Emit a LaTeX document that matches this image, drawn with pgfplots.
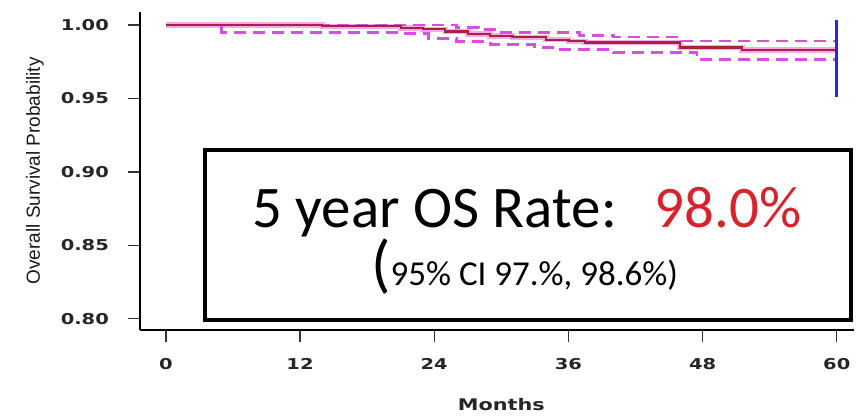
\documentclass[border=0pt]{standalone}
\usepackage{pgfplots}
\pgfplotsset{compat=1.18}
\usepackage{fontspec}
\setmainfont{Carlito}
\newfontfamily\labelfont{Liberation Sans}
\newfontfamily\tickfont[FakeStretch=1.3]{DejaVu Sans}

\definecolor{kmline}{RGB}{165,35,70}
\definecolor{kmhalo}{RGB}{240,100,210}
\definecolor{cidash}{RGB}{215,80,220}
\definecolor{endbar}{RGB}{45,40,215}
\definecolor{raterd}{RGB}{213,36,45}

% Kaplan-Meier estimate and pointwise 95% limits (months, survival)
\pgfplotstableread{
t s
0 1.000
14 0.9990
21 0.9980
23 0.9970
25 0.9955
27 0.9940
29 0.9925
31 0.9915
34 0.9900
36 0.9888
37.5 0.9880
46 0.9846
51.5 0.9830
60 0.9830
}\kmest
\pgfplotstableread{
t s
0 1.000
26 0.9985
28 0.9970
30 0.9950
37 0.9930
40 0.9918
46 0.9890
60 0.9890
}\kmupper
\pgfplotstableread{
t s
0 1.000
5 0.9950
21 0.9940
23.5 0.9910
26 0.9885
29 0.9864
33 0.9845
35 0.9830
40 0.9810
47.5 0.9762
60 0.9762
}\kmlower
\pgfplotstableread{
t s
60 0.951
60 1.0035
}\endmark

\begin{document}
\begin{tikzpicture}
\begin{axis}[
  at={(0pt,0pt)}, anchor=south west,
  scale only axis, width=357.5pt, height=159pt,
  xmin=-2.32, xmax=61.57, ymin=0.7925, ymax=1.0088,
  axis x line*=bottom, axis y line*=left,
  axis line style={-, line width=1pt, black},
  xtick={0,12,24,36,48,60},
  ytick={0.80,0.85,0.90,0.95,1.00},
  tick align=outside, major tick length=6pt,
  tick style={line width=0.7pt, black!80},
  /pgf/number format/assume math mode=true,
  yticklabel style={xshift=-6pt, /pgf/number format/fixed, /pgf/number format/fixed zerofill, /pgf/number format/precision=2},
  xticklabel style={yshift=-5pt},
  tick label style={font=\tickfont\bfseries\fontsize{7.5}{9}\selectfont, text=black!85},
  xlabel={Months}, ylabel={Overall Survival Probability},
  every axis x label/.style={at={(axis description cs:0.506,-0.236)}, anchor=center,
    font=\tickfont\bfseries\fontsize{8}{9}\selectfont, text=black!85},
  every axis y label/.style={at={(axis description cs:-0.1469,0.5)}, rotate=90, anchor=center,
    font=\labelfont\fontsize{9.5}{11}\selectfont, text=black!90},
  clip=false,
]
\addplot[const plot, kmhalo, opacity=0.55, line width=2.8pt] table[x=t,y=s] {\kmest};
\addplot[const plot, cidash, line width=1.4pt, dash pattern=on 6pt off 3.5pt] table[x=t,y=s] {\kmupper};
\addplot[const plot, cidash, line width=1.4pt, dash pattern=on 6pt off 3.5pt] table[x=t,y=s] {\kmlower};
\addplot[const plot, kmline, line width=1.1pt] table[x=t,y=s] {\kmest};
\addplot[endbar, line width=1.5pt] table[x=t,y=s] {\endmark};
\end{axis}

% summary box
\draw[line width=2pt, black] (32.5pt,5pt) rectangle (356pt,90pt);
\node[anchor=base, inner sep=0pt] at (193.75pt,51pt)
  {\fontsize{29.5}{32}\selectfont 5 year OS Rate:\hspace{19pt}\textcolor{raterd}{98.0\%}};
\node[anchor=base, inner sep=0pt] at (192.5pt,22pt)
  {\fontsize{32}{34}\selectfont(\fontsize{17.5}{20}\selectfont 95\% CI 97.\%, 98.6\%)};

% picture extent
\path (-70pt,-42pt) rectangle (358.5pt,165pt);
\end{tikzpicture}
\end{document}
